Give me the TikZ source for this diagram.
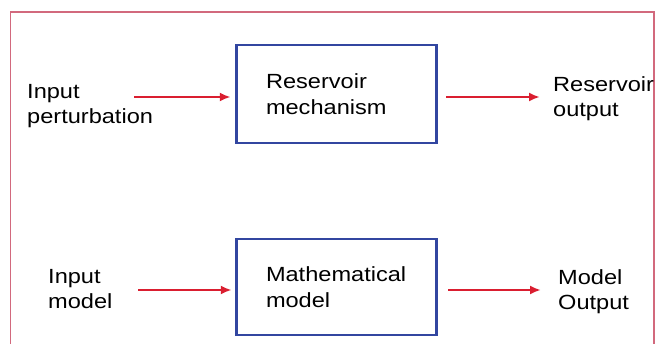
\documentclass[tikz,border=0pt]{standalone}
\usepackage{fontspec}
\setmainfont{Liberation Sans}[FakeStretch=1.15]
\usepackage{xcolor}
\usetikzlibrary{positioning}
\usetikzlibrary{arrows.meta}

\definecolor{framepink}{RGB}{210,105,125}
\definecolor{boxblue}{RGB}{50,70,160}
\definecolor{arrowred}{RGB}{218,30,48}

\begin{document}
\begin{tikzpicture}[x=1pt,y=-1pt,
  block/.style={draw=boxblue, line width=2.5pt, minimum width=200pt,
    inner xsep=29.5pt, text width=141pt, align=left,
    font=\fontsize{20.5}{25.5}\selectfont},
  lbl/.style={anchor=north west, inner sep=0pt, align=left,
    font=\fontsize{20.5}{25.5}\selectfont},
  flow/.style={draw=arrowred, line width=2.4pt, -{Latex[length=11pt,width=9pt]}}]
  \useasboundingbox (0,0) rectangle (656,344);
  \clip (0,0) rectangle (656,344);
  \draw[framepink, line width=1.5pt] (10.7,12) rectangle (654,360);

  % top row
  \node(res) [block, minimum height=98pt] at (336.5,94) {Reservoir\\mechanism};
  \node(inpert) [lbl] at (27,84) {Input\\perturbation};
  \node(resout) [lbl] at (553,76) {Reservoir\\output};
  \coordinate (s1) at (134,97);
  \coordinate (e1) at (540,97);
  \draw[flow, shorten >=4.5pt] (s1) -- (s1 -| res.west);
  \draw[flow, shorten <=8.5pt] (e1 -| res.east) -- (e1);

  % bottom row
  \node(math) [block, minimum height=96pt] at (336.5,287) {Mathematical\\model};
  \node(inmodel) [lbl] at (48,269) {Input\\model};
  \node(modout) [lbl] at (558,269) {Model\\Output};
  \coordinate (s2) at (138,290);
  \coordinate (e2) at (541,290);
  \draw[flow, shorten >=3.5pt] (s2) -- (s2 -| math.west);
  \draw[flow, shorten <=10.5pt] (e2 -| math.east) -- (e2);
\end{tikzpicture}
\end{document}
